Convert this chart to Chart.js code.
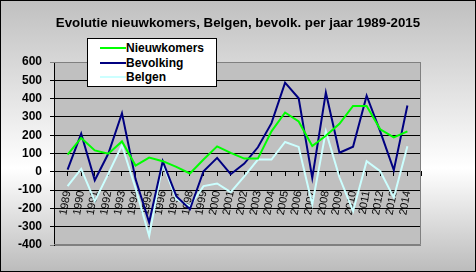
<!DOCTYPE html>
<html>
<head>
<meta charset="utf-8">
<script src="https://cdn.jsdelivr.net/npm/chart.js@4/dist/chart.umd.min.js"></script>
<style>
  html, body { margin: 0; padding: 0; }
  #wrap {
    position: relative; width: 476px; height: 272px; box-sizing: border-box;
    border: 1px solid #000;
    background: linear-gradient(to bottom, #c0c0c0 0%, #ffffff 62%, #bcbcbc 100%);
    font-family: "Liberation Sans", Arial, sans-serif;
  }
  #c { position: absolute; left: -1px; top: -1px; }
  #title {
    position: absolute; left: 0; top: 14px; width: 474px; text-align: center;
    font-weight: bold; font-size: 13.3px; color: #000; white-space: nowrap;
  }
  #legend {
    position: absolute; left: 86px; top: 37px; width: 128px; height: 47px;
    background: #fff; border: 1px solid #000; z-index: 2;
  }
  .item { position: absolute; left: 12px; height: 14px; font-weight: bold; font-size: 12px; line-height: 14px; white-space: nowrap; }
  .item span.sw { display: inline-block; width: 26px; height: 2px; vertical-align: middle; margin-right: 0px; position: relative; top: -1px; }
</style>
</head>
<body>
<div id="wrap">
  <canvas id="c" width="476" height="272"></canvas>
  <div id="title">Evolutie nieuwkomers, Belgen, bevolk. per jaar 1989-2015</div>
  <div id="legend"></div>
</div>
<script>
// ---- data ----
const years = [1989,1990,1991,1992,1993,1994,1995,1996,1997,1998,1999,2000,2001,2002,2003,2004,2005,2006,2007,2008,2009,2010,2011,2012,2013,2014];
const nieuwkomers = [94,185,117,99,166,34,78,58,27,-9,67,139,103,72,72,221,324,275,141,197,262,360,360,232,188,221];
const bevolking  = [12,208,-46,100,320,-40,-277,58,-133,-205,3,76,-13,45,134,266,487,402,-33,433,104,137,416,221,9,362];
const belgen     = [-78,16,-160,-10,145,-90,-350,45,-150,-187,-78,-64,-111,-25,67,67,163,136,-178,221,-30,-215,58,3,-141,139];
const seriesNames = ["Nieuwkomers","Bevolking","Belgen"];
const seriesColors = ["#00ff00","#000080","#ccffff"];
const yTickValues = [600,500,400,300,200,100,0,-100,-200,-300,-400];
const xMin = 1988, xMax = 2015;

const FONT = '"Liberation Sans", Arial, sans-serif';

function pts(vals){ return years.map((y,i)=>({x:y, y:vals[i]})); }

const plotBg = {
  id: 'plotBg',
  beforeDraw(chart){
    const {ctx, chartArea:a} = chart;
    ctx.save();
    ctx.fillStyle = '#c0c0c0';
    ctx.fillRect(a.left, a.top, a.right-a.left, a.bottom-a.top);
    ctx.restore();
  },
  beforeDatasetsDraw(chart){
    const {ctx, chartArea:a} = chart;
    ctx.save();
    ctx.strokeStyle = '#808080';
    ctx.lineWidth = 1;
    ctx.beginPath();
    ctx.moveTo(a.left, a.top+0.5); ctx.lineTo(a.right-0.5, a.top+0.5);
    ctx.lineTo(a.right-0.5, a.bottom-0.5); ctx.lineTo(a.left, a.bottom-0.5);
    ctx.stroke();
    ctx.restore();
  }
};

new Chart(document.getElementById('c'), {
  type: 'line',
  data: {
    datasets: [
      {label: seriesNames[0], data: pts(nieuwkomers), borderColor: seriesColors[0]},
      {label: seriesNames[1], data: pts(bevolking), borderColor: seriesColors[1]},
      {label: seriesNames[2], data: pts(belgen), borderColor: seriesColors[2]}
    ]
  },
  options: {
    responsive: false,
    animation: false,
    devicePixelRatio: 1,
    elements: { line: { borderWidth: 2, tension: 0 }, point: { radius: 0 } },
    layout: { padding: { left: 1, top: 62, right: 55, bottom: 27 } },
    plugins: { legend: { display: false }, title: { display: false }, tooltip: { enabled: false } },
    scales: {
      x: {
        type: 'linear', min: xMin, max: xMax,
        position: { y: 0 },
        afterBuildTicks(s){ const t=[]; for(let v=xMin; v<=xMax; v++) t.push({value:v}); s.ticks=t; },
        ticks: {
          autoSkip: false, minRotation: 80, maxRotation: 80, padding: 14,
          color: '#000', font: { family: FONT, size: 11 },
          callback: (v) => years.includes(v) ? String(v) : ''
        },
        grid: { drawOnChartArea: false, drawTicks: true, tickLength: 4, color: '#000' },
        border: { color: '#000', width: 1 }
      },
      y: {
        min: -400, max: 600,
        afterBuildTicks(s){ s.ticks = yTickValues.map(v=>({value:v})); },
        afterFit(s){ s.width = 53; },
        ticks: { color: '#000', padding: 8, font: { family: FONT, size: 12, weight: 'bold' } },
        grid: { color: (c) => (c.tick && (c.tick.value === 600 || c.tick.value === -400)) ? '#808080' : '#000', tickLength: 4, lineWidth: 1 },
        border: { color: '#000', width: 1 }
      }
    }
  },
  plugins: [plotBg]
});

// legend (HTML text)
const lg = document.getElementById('legend');
const tops = [2, 17, 31];
seriesNames.forEach((n,i)=>{
  const d = document.createElement('div');
  d.className = 'item';
  d.style.top = tops[i] + 'px';
  d.innerHTML = '<span class="sw" style="background:'+seriesColors[i]+'"></span>' + n;
  lg.appendChild(d);
});
</script>
</body>
</html>
